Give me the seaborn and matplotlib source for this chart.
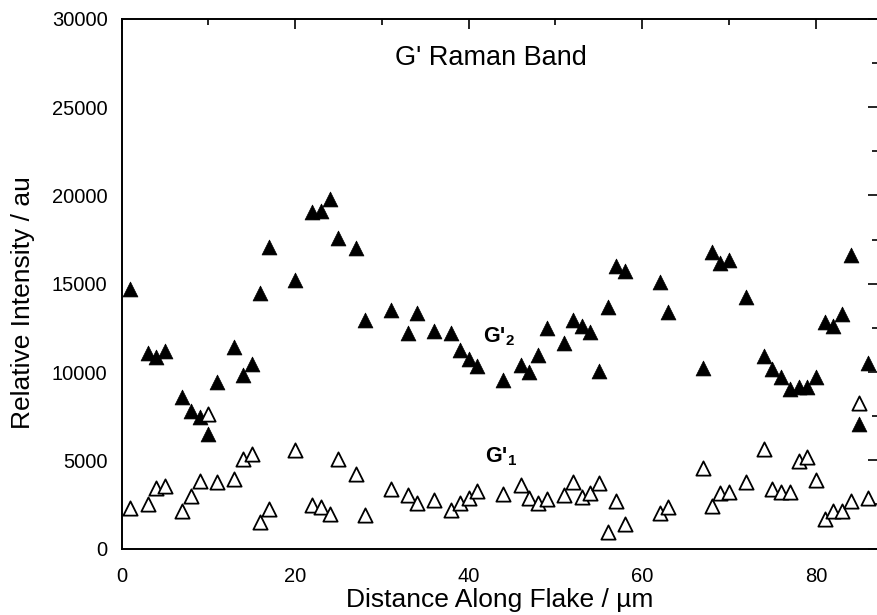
import matplotlib
matplotlib.use("Agg")
import matplotlib.pyplot as plt
from matplotlib.ticker import MultipleLocator
import seaborn as sns
import pandas as pd

# G'2 band (filled triangles)
g2_x = [1, 3, 4, 5, 7, 8, 9, 10, 11, 13, 14, 15, 16, 17, 20, 22, 23, 24, 25, 27,
        28, 31, 33, 34, 36, 38, 39, 40, 41, 44, 46, 47, 48, 49, 51, 52, 53, 54, 55,
        56, 57, 58, 62, 63, 67, 68, 69, 70, 72, 74, 75, 76, 77, 78, 79, 80, 81, 82,
        83, 84, 85, 86]
g2_y = [14700, 11100, 10840, 11180, 8610, 7810, 7470, 6490, 9440, 11440, 9820, 10460,
        14490, 17080, 15210, 19040, 19100, 19800, 17590, 17020, 12960, 13490, 12200,
        13340, 12320, 12200, 11220, 10750, 10350, 9520, 10390, 9990, 10960, 12470,
        11640, 12920, 12580, 12280, 10080, 13680, 16020, 15720, 15110, 13410, 10220,
        16800, 16170, 16320, 14250, 10930, 10180, 9740, 9030, 9140, 9140, 9710, 12860,
        12620, 13300, 16640, 7060, 10500]

# G'1 band (open triangles)
g1_x = [1, 3, 4, 5, 7, 8, 9, 10, 11, 13, 14, 15, 16, 17, 20, 22, 23, 24, 25, 27,
        28, 31, 33, 34, 36, 38, 39, 40, 41, 44, 46, 47, 48, 49, 51, 52, 53, 54, 55,
        56, 57, 58, 62, 63, 67, 68, 69, 70, 72, 74, 75, 76, 77, 78, 79, 80, 81, 82,
        83, 84, 85, 86]
g1_y = [2280, 2510, 3410, 3560, 2140, 2980, 3850, 7630, 3750, 3920, 5080, 5360, 1520,
        2220, 5590, 2470, 2370, 1960, 5060, 4230, 1880, 3360, 3030, 2560, 2750, 2180,
        2560, 2880, 3280, 3070, 3600, 2850, 2560, 2790, 3030, 3770, 2900, 3160, 3730,
        940, 2710, 1390, 2000, 2340, 4550, 2410, 3130, 3220, 3770, 5660, 3360, 3220,
        3220, 4980, 5170, 3880, 1660, 2140, 2140, 2690, 8270, 2850]

x_ticks = [0, 20, 40, 60, 80]
y_ticks = [0, 5000, 10000, 15000, 20000, 25000, 30000]

sns.set_style("white")
plt.rcParams['font.family'] = ['Liberation Sans', 'DejaVu Sans']
plt.rcParams['mathtext.fontset'] = 'custom'
plt.rcParams['mathtext.rm'] = 'Liberation Sans'
plt.rcParams['mathtext.bf'] = 'Liberation Sans:bold'
plt.rcParams['text.color'] = 'black'
plt.rcParams['axes.labelcolor'] = 'black'
plt.rcParams['xtick.color'] = 'black'
plt.rcParams['ytick.color'] = 'black'

df2 = pd.DataFrame({"x": g2_x, "y": g2_y})
df1 = pd.DataFrame({"x": g1_x, "y": g1_y})

fig = plt.figure(figsize=(8.77, 6.15), dpi=100)
W, H = 877, 615
ax = fig.add_axes([121.5 / W, (H - 548.5) / H, (878 - 121.5) / W, (548.5 - 19) / H])

sns.scatterplot(data=df2, x="x", y="y", marker="^", s=115, color="black",
                edgecolor="black", linewidth=0.5, ax=ax, zorder=3)
sns.scatterplot(data=df1, x="x", y="y", marker="^", s=105, facecolor="white",
                edgecolor="black", linewidth=1.3, ax=ax, zorder=3)

ax.set_xlim(0, (878 - 121.5) / 8.68)
ax.set_ylim(0, 30000)
ax.set_xticks(x_ticks)
ax.set_yticks(y_ticks)
ax.xaxis.set_minor_locator(MultipleLocator(10))
ax.yaxis.set_minor_locator(MultipleLocator(2500))
ax.tick_params(which="both", direction="in", top=True, right=True, labelsize=14.5,
               width=1.2)
ax.tick_params(axis="x", which="major", pad=13)
ax.tick_params(axis="y", which="major", pad=10)
ax.tick_params(which="major", length=7)
ax.tick_params(which="minor", length=4)
for sp in ax.spines.values():
    sp.set_linewidth(1.4)
    sp.set_color("black")

ax.set_xlabel("Distance Along Flake / \u00b5m", fontsize=19, labelpad=2)
ax.set_ylabel("Relative Intensity / au", fontsize=19)
ax.yaxis.set_label_coords(-0.114, 0.465)

ax.text(0.488, 0.95, "G' Raman Band", transform=ax.transAxes, ha="center", va="top",
        fontsize=19.5)
ax.text(41.6, 11660, r"G'$_\mathbf{2}$", fontsize=15.5, fontweight="bold",
        ha="left", va="baseline")
ax.text(41.9, 4870, r"G'$_\mathbf{1}$", fontsize=15.5, fontweight="bold",
        ha="left", va="baseline")

fig.savefig("out.png", dpi=100)
